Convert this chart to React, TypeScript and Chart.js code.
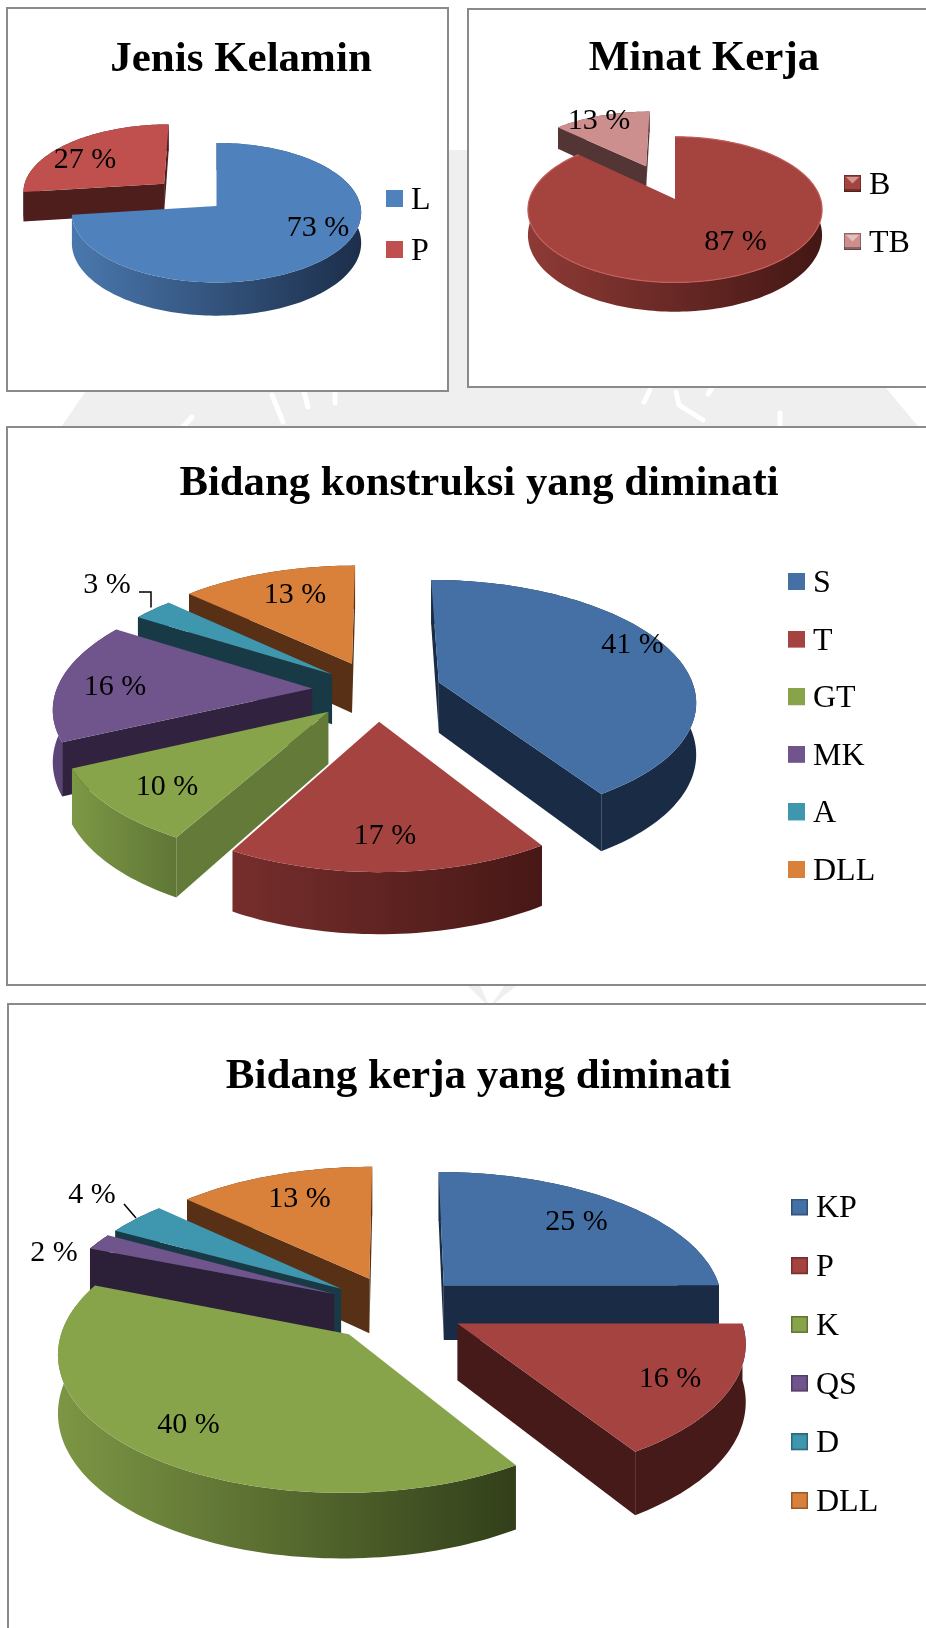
import React, { useEffect, useRef } from "react";
import { Chart, registerables } from "chart.js";

Chart.register(...registerables);

// ---- data ----
const jenisLabels = ["L", "P"];
const jenisValues = [73, 27];
const minatLabels = ["B", "TB"];
const minatValues = [87, 13];
const konstruksiLabels = ["S", "T", "GT", "MK", "A", "DLL"];
const konstruksiValues = [41, 17, 10, 16, 3, 13];
const kerjaLabels = ["KP", "P", "K", "QS", "D", "DLL"];
const kerjaValues = [25, 16, 40, 2, 4, 13];

const SERIF = '"Liberation Serif", "Times New Roman", serif';

type Panel = {
  title: string; labels: string[]; values: number[];
  rect: number[]; titleAt: number[]; titleSize: number;
  centre: number[]; radius: number; tilt: number; focal: number; depth: number;
  explode: number[]; top: string[]; rim: string[][]; face: string[];
  legendAt: number[]; legendStep: number; swatchStyle: string; edge?: string;
  labelAt: number[][]; leaders?: number[][][];
};

const panels: Panel[] = [
  {
    title: "Jenis Kelamin", labels: jenisLabels, values: jenisValues,
    rect: [7, 8, 448, 391], titleAt: [241, 60], titleSize: 43,
    centre: [216.5, 206], radius: 144, tilt: 0.48, focal: 1500, depth: 30,
    explode: [0, 72],
    top: ["#4f81bd", "#c0504d"],
    rim: [["#4a78ae", "#1c2e4a"], ["#4e1e1c", "#4e1e1c"]],
    face: ["#1c2e4a", "#4e1e1c"],
    legendAt: [386, 198.5], legendStep: 51, swatchStyle: "flat",
    labelAt: [[318, 228], [85, 160]],
  },
  {
    title: "Minat Kerja", labels: minatLabels, values: minatValues,
    rect: [468, 9, 940, 387], titleAt: [704, 59], titleSize: 43,
    centre: [675, 199], radius: 145.5, tilt: 0.49, focal: 1000, depth: 25,
    explode: [0, 78],
    top: ["#a5433f", "#cd8f8e"],
    rim: [["#8e3a36", "#431714"], ["#533535", "#533535"]],
    face: ["#4a2020", "#533535"],
    legendAt: [844, 183.5], legendStep: 58, swatchStyle: "bevel", edge: "#c4605c",
    labelAt: [[735.5, 242], [599, 121]],
  },
  {
    title: "Bidang konstruksi yang diminati", labels: konstruksiLabels, values: konstruksiValues,
    rect: [7, 427, 940, 985], titleAt: [479, 484], titleSize: 42.7,
    centre: [377, 690.5], radius: 256, tilt: 0.465, focal: 1800, depth: 51,
    explode: [65, 65, 65, 65, 58, 65],
    top: ["#4470a5", "#a54341", "#88a44b", "#70548c", "#3f96af", "#d9803a"],
    rim: [["#1a2c45", "#1a2c45"], ["#762e2c", "#471816"], ["#7d9845", "#5f7636"], ["#5c4578", "#4f3a66"], ["#183a47", "#183a47"], ["#573016", "#573016"]],
    face: ["#1a2c45", "#471816", "#647a38", "#31223f", "#183a47", "#573016"],
    legendAt: [788, 581.5], legendStep: 57.6, swatchStyle: "flat",
    labelAt: [[632.6, 645], [385, 836], [167, 787], [115, 687], [107, 585], [295, 595]],
    leaders: [[[139, 592], [151, 592], [151, 607.6]]],
  },
  {
    title: "Bidang kerja yang diminati", labels: kerjaLabels, values: kerjaValues,
    rect: [8, 1004, 940, 1640], titleAt: [478.5, 1077], titleSize: 43,
    centre: [396, 1307.6], radius: 281, tilt: 0.47, focal: 2300, depth: 56,
    explode: [69, 69, 72, 69, 69, 69],
    top: ["#4470a5", "#a54341", "#88a44b", "#70548c", "#3f96af", "#d9803a"],
    rim: [["#1a2c45", "#1a2c45"], ["#461a18", "#461a18"], ["#7c9644", "#323f1a"], ["#2b2038", "#2b2038"], ["#183a47", "#183a47"], ["#573016", "#573016"]],
    face: ["#1a2c45", "#461a18", "#323f1a", "#2b2038", "#183a47", "#573016"],
    legendAt: [791, 1207], legendStep: 58.7, swatchStyle: "outlined",
    labelAt: [[576.5, 1222], [670, 1379], [188.4, 1425], [54, 1253], [92, 1195], [299.5, 1199]],
    leaders: [[[124, 1204], [136, 1218]]],
  },
];

const SW = 17;
const SW_DROP = 4; // transparent strip under each swatch, so the legend text sits 2px lower than its box
const LABEL_PX = 30;
const LEGEND_PX = 32;

function makeSwatch(color: string, style: string) {
  const c = document.createElement("canvas");
  c.width = SW; c.height = SW + SW_DROP;
  const g = c.getContext("2d")!;
  g.fillStyle = color;
  g.fillRect(0, 0, SW, SW);
  if (style === "outlined") {
    g.strokeStyle = "rgba(0,0,0,0.3)"; g.lineWidth = 1.5;
    g.strokeRect(0.75, 0.75, SW - 1.5, SW - 1.5);
  }
  if (style === "bevel") {
    g.fillStyle = "rgba(255,255,255,0.45)";
    g.beginPath(); g.moveTo(2, 2); g.lineTo(SW - 2, 2); g.lineTo(SW / 2, SW / 2); g.closePath(); g.fill();
    g.fillStyle = "rgba(0,0,0,0.3)";
    g.fillRect(0, SW - 3, SW, 3);
    g.strokeStyle = "rgba(0,0,0,0.3)"; g.lineWidth = 1;
    g.strokeRect(0.5, 0.5, SW - 1, SW - 1);
  }
  return c;
}

function pie3d(p: Panel) {
  const ox = p.rect[0], oy = p.rect[1];
  return {
    id: "pie3d",
    afterLayout(chart: any) {
      // The pie's square plot area, the title and the legend go where the panel wants them.
      const cx = p.centre[0] - ox, cy = p.centre[1] - oy;
      chart.chartArea = { left: cx - p.radius, right: cx + p.radius, top: cy - p.radius, bottom: cy + p.radius, width: 2 * p.radius, height: 2 * p.radius };
      const t = chart.titleBlock;
      const lh = p.titleSize * 1.2;
      t.left = p.titleAt[0] - ox - 400; t.right = p.titleAt[0] - ox + 400;
      t.width = 800;
      t.top = p.titleAt[1] - oy - lh / 2; t.bottom = t.top + lh;
      const l = chart.legend;
      const pad = p.legendStep - LEGEND_PX;
      l.left = p.legendAt[0] - ox + SW / 2 - 0.5 - pad;
      l.right = l.left + 300;
      l.top = p.legendAt[1] - oy - LEGEND_PX / 2 - pad + SW_DROP / 2;
      l.bottom = l.top + 2000;
    },
    beforeDatasetsDraw(chart: any) {
      const ctx = chart.ctx as CanvasRenderingContext2D;
      const arcs = chart.getDatasetMeta(0).data as any[];
      const items = arcs.map((a, i) => {
        const mid = (a.startAngle + a.endAngle) / 2;
        return { a, i, mid, ex: p.explode[i] * Math.cos(mid), ey: p.explode[i] * Math.sin(mid) };
      }).sort((m, n) => Math.sin(m.mid) - Math.sin(n.mid));

      for (const it of items) {
        const { a, i, ex, ey } = it;
        const R = a.outerRadius;
        const pt = (theta: number, r: number, z: number) => {
          const u = ex + r * Math.cos(theta), v = ey + r * Math.sin(theta);
          const s = p.focal / (p.focal - v);
          return [a.x + u * s, a.y + p.tilt * v * s + z * s];
        };
        const steps = Math.max(8, Math.round((a.endAngle - a.startAngle) * 40));
        const thetas: number[] = [];
        for (let n = 0; n <= steps; n++) thetas.push(a.startAngle + (a.endAngle - a.startAngle) * n / steps);
        const tip = pt(0, 0, 0);

        // cut faces, only those turned towards the viewer
        const face = (theta: number) => {
          const o = pt(theta, R, 0), o2 = pt(theta, R, p.depth), t2 = pt(0, 0, p.depth);
          ctx.beginPath(); ctx.moveTo(tip[0], tip[1]); ctx.lineTo(o[0], o[1]); ctx.lineTo(o2[0], o2[1]); ctx.lineTo(t2[0], t2[1]); ctx.closePath();
          ctx.fillStyle = p.face[i]; ctx.fill();
        };
        if (pt(a.startAngle, R, 0)[0] < tip[0]) face(a.startAngle);
        if (pt(a.endAngle, R, 0)[0] > tip[0]) face(a.endAngle);

        // outer rim
        const upper = thetas.map((t) => pt(t, R, 0));
        const lower = thetas.map((t) => pt(t, R, p.depth));
        const xs = upper.map((q) => q[0]);
        const grad = ctx.createLinearGradient(Math.min(...xs), 0, Math.max(...xs), 0);
        grad.addColorStop(0, p.rim[i][0]); grad.addColorStop(1, p.rim[i][1]);
        ctx.beginPath();
        upper.forEach((q, n) => (n ? ctx.lineTo(q[0], q[1]) : ctx.moveTo(q[0], q[1])));
        lower.reverse().forEach((q) => ctx.lineTo(q[0], q[1]));
        ctx.closePath(); ctx.fillStyle = grad; ctx.fill();

        // top face
        ctx.beginPath(); ctx.moveTo(tip[0], tip[1]);
        upper.forEach((q) => ctx.lineTo(q[0], q[1]));
        ctx.closePath(); ctx.fillStyle = p.top[i]; ctx.fill();
        if (p.edge && i === 0) {
          ctx.beginPath();
          upper.forEach((q, n) => (n ? ctx.lineTo(q[0], q[1]) : ctx.moveTo(q[0], q[1])));
          ctx.strokeStyle = p.edge; ctx.lineWidth = 1.2; ctx.stroke();
        }
      }

      // value labels and their leaders
      ctx.fillStyle = "#000";
      ctx.font = `${LABEL_PX}px ${SERIF}`;
      ctx.textAlign = "center"; ctx.textBaseline = "middle";
      p.values.forEach((v, i) => ctx.fillText(`${v} %`, p.labelAt[i][0] - ox, p.labelAt[i][1] - oy));
      ctx.strokeStyle = "#000"; ctx.lineWidth = 1.5;
      (p.leaders || []).forEach((line) => {
        ctx.beginPath();
        line.forEach((q, n) => (n ? ctx.lineTo(q[0] - ox, q[1] - oy) : ctx.moveTo(q[0] - ox, q[1] - oy)));
        ctx.stroke();
      });
      return false;
    },
  };
}

function PiePanel({ p }: { p: Panel }) {
  const ref = useRef<HTMLCanvasElement>(null);
  useEffect(() => {
    const swatches = p.top.map((c) => makeSwatch(c, p.swatchStyle));
    const chart = new Chart(ref.current!, {
      type: "pie",
      data: { labels: p.labels, datasets: [{ data: p.values, backgroundColor: p.top, borderWidth: 0 }] },
      options: {
        responsive: false,
        animation: false,
        events: [],
        plugins: {
          title: { display: true, text: p.title, color: "#000", padding: 0, font: { family: SERIF, size: p.titleSize, weight: "bold" } },
          legend: {
            display: true, position: "right", align: "start",
            labels: {
              color: "#000", font: { family: SERIF, size: LEGEND_PX },
              usePointStyle: true, pointStyleWidth: 1, boxHeight: SW,
              padding: p.legendStep - LEGEND_PX,
              generateLabels: () => p.labels.map((t, i) => ({ text: t, fillStyle: p.top[i], strokeStyle: "transparent", lineWidth: 0, pointStyle: swatches[i], hidden: false, index: i, fontColor: "#000" })),
            },
          },
          tooltip: { enabled: false },
        },
      },
      plugins: [pie3d(p)],
    } as any);
    return () => chart.destroy();
  }, [p]);
  const [l, t, r, b] = p.rect;
  return (
    <div style={{ position: "absolute", boxSizing: "border-box", left: l - 1, top: t - 1, width: r - l + 2, height: b - t + 2, border: "2px solid #8a8a8a", background: "#fff" }}>
      <canvas ref={ref} width={r - l} height={b - t} style={{ position: "absolute", left: -1, top: -1, width: r - l, height: b - t }} />
    </div>
  );
}

// The faint page watermark that shows in the gaps between the panels.
const WATERMARK_STROKES = [
  "M272 395L283 422", "M304 392L308 407", "M335 393L335 403", "M192 417L183 427",
  "M650 390L644 402", "M676 392L679 405L703 420", "M780 413L780 427", "M712 388L708 394",
];

function Watermark() {
  return (
    <svg width={926} height={1628} style={{ position: "absolute", left: 0, top: 0 }}>
      <path d="M450 150L470 150L886 388L921 430L59 430L88 388Z" fill="#efefef" />
      {WATERMARK_STROKES.map((d) => <path key={d} d={d} stroke="#fff" strokeWidth={5} fill="none" strokeLinecap="round" />)}
      <path d="M467 985L480 985L488 1004L486 1004Z M505 985L517 985L494 1004L492 1004Z" fill="#efefef" />
    </svg>
  );
}

export default function App() {
  return (
    <div style={{ position: "absolute", left: 0, top: 0, width: 926, height: 1628, overflow: "hidden", background: "#fff" }}>
      <Watermark />
      {panels.map((p) => <PiePanel key={p.title} p={p} />)}
    </div>
  );
}
